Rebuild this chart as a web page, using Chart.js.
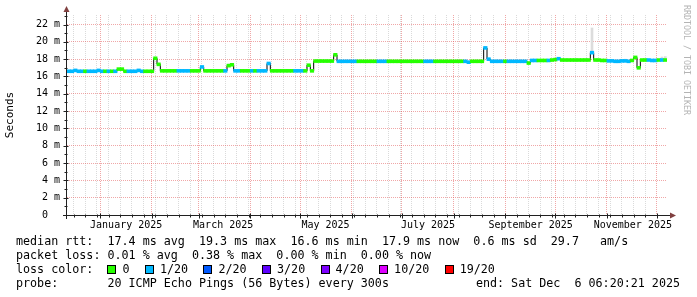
<!DOCTYPE html>
<html>
<head>
<meta charset="utf-8">
<script src="https://cdn.jsdelivr.net/npm/chart.js@4/dist/chart.umd.min.js"></script>
<style>
  body { margin: 0; background: #fff; }
  #wrap { position: relative; width: 697px; height: 297px; background: #fff; font-family: "DejaVu Sans Mono", monospace; color: #000; }
  canvas { position: absolute; left: 0; top: 0; }
  #legend { position: absolute; left: 16px; top: 234px; font-size: 11.7px; line-height: 14px; white-space: pre; }
  .sq { display: inline-block; width: 7px; height: 7px; border: 1px solid #000; margin-right: 6px; vertical-align: -1px; }
  .it { margin-right: 15.4px; }
  #end { position: absolute; right: 17px; top: 276px; font-size: 11.7px; line-height: 14px; white-space: pre; }
  #wm { position: absolute; left: 682px; top: 5px; writing-mode: vertical-rl; font-size: 8.3px; color: #b4b4b4; white-space: pre; }
</style>
</head>
<body>
<div id="wrap">
  <canvas id="c" width="697" height="297"></canvas>
  <div id="legend"></div>
  <div id="end">end: Sat Dec  6 06:20:21 2025</div>
  <div id="wm">RRDTOOL / TOBI OETIKER</div>
</div>
<script>
// x is days from 1 Jan 2025, one sample every 2 days
const startDay = -19.9;
const endDay = 340.1;
const binDays = 2;

// median rtt (ms) per 2-day bin
const median = [
  16.6, 16.6, 16.7, 16.6, 16.6, 16.6, 16.6, 16.6, 16.6, 16.7,
  16.6, 16.6, 16.6, 16.6, 16.6, 16.85, 16.85, 16.6, 16.6, 16.6,
  16.6, 16.7, 16.6, 16.6, 16.6, 16.6, 18.1, 17.4, 16.65, 16.65,
  16.65, 16.65, 16.65, 16.65, 16.65, 16.65, 16.65, 16.65, 16.65, 16.65,
  17.1, 16.65, 16.65, 16.65, 16.65, 16.65, 16.65, 16.65, 17.25, 17.35,
  16.65, 16.65, 16.65, 16.65, 16.65, 16.65, 16.65, 16.65, 16.65, 16.65,
  17.5, 16.65, 16.65, 16.65, 16.65, 16.65, 16.65, 16.65, 16.65, 16.65,
  16.65, 16.65, 17.3, 16.65, 17.78, 17.78, 17.78, 17.78, 17.78, 17.78,
  18.5, 17.75, 17.75, 17.75, 17.75, 17.75, 17.75, 17.75, 17.75, 17.75,
  17.75, 17.75, 17.75, 17.75, 17.75, 17.75, 17.75, 17.75, 17.75, 17.75,
  17.75, 17.75, 17.75, 17.75, 17.75, 17.75, 17.75, 17.75, 17.75, 17.75,
  17.75, 17.75, 17.75, 17.75, 17.75, 17.75, 17.75, 17.75, 17.75, 17.75,
  17.65, 17.75, 17.75, 17.75, 17.75, 19.3, 18.0, 17.75, 17.75, 17.75,
  17.75, 17.75, 17.75, 17.75, 17.75, 17.75, 17.75, 17.75, 17.55, 17.85,
  17.85, 17.85, 17.85, 17.85, 17.85, 17.9, 17.95, 18.05, 17.9, 17.9,
  17.9, 17.9, 17.9, 17.9, 17.9, 17.9, 17.9, 18.75, 17.9, 17.9,
  17.85, 17.85, 17.8, 17.8, 17.75, 17.75, 17.8, 17.8, 17.75, 17.85,
  18.2, 17.0, 17.9, 17.9, 17.9, 17.85, 17.85, 17.9, 17.9, 17.9
];

// packet loss per bin, index into lossColors (0 = 0/20, 1 = 1/20)
const loss = [
  1, 1, 1, 1, 1, 0, 1, 1, 1, 1,
  1, 0, 1, 0, 1, 0, 0, 0, 1, 1,
  1, 1, 1, 0, 0, 0, 0, 0, 0, 0,
  0, 0, 0, 1, 1, 1, 1, 0, 0, 0,
  1, 0, 0, 0, 0, 0, 0, 1, 0, 0,
  1, 1, 0, 0, 0, 1, 0, 1, 1, 1,
  1, 0, 0, 0, 0, 0, 0, 0, 1, 1,
  1, 0, 0, 0, 0, 0, 0, 0, 0, 0,
  0, 1, 1, 1, 1, 1, 1, 0, 0, 0,
  0, 0, 0, 1, 1, 1, 0, 0, 0, 0,
  0, 0, 0, 0, 0, 0, 0, 1, 1, 1,
  0, 0, 0, 0, 0, 0, 0, 0, 0, 1,
  1, 0, 0, 0, 0, 1, 1, 1, 1, 1,
  1, 0, 1, 1, 1, 1, 1, 1, 0, 1,
  1, 0, 0, 0, 1, 0, 0, 1, 0, 0,
  0, 0, 0, 0, 0, 0, 0, 1, 0, 0,
  0, 0, 1, 1, 1, 1, 1, 1, 1, 0,
  0, 0, 0, 0, 1, 1, 1, 0, 1, 0
];

// smoke (spread of the pings) where it shows above the median
const smokeBins = [48, 49, 126, 127, 128, 146, 147, 148, 149, 155, 157, 167, 173, 176, 178, 179];
const smokeTop = [17.45, 17.5, 18.1, 17.95, 17.95, 18.1, 18.15, 18.05, 18.0, 18.05, 21.6, 18.0, 18.05, 18.0, 18.25, 18.3];

const lossLabels = ['0', '1/20', '2/20', '3/20', '4/20', '10/20', '19/20'];
const lossColors = ['#26ff00', '#00b8ff', '#0059ff', '#5e00ff', '#7e00ff', '#dd00ff', '#ff0000'];

// month starts (major grid), first Monday (minor grid), month labels
const monthStarts = [0, 31, 59, 90, 120, 151, 181, 212, 243, 273, 304, 334];
const firstMonday = -16;
const labelDays = [15.6, 73.8, 135.2, 196.7, 258.3, 319.6];
const monthLabels = ['January 2025', 'March 2025', 'May 2025', 'July 2025', 'September 2025', 'November 2025'];

const yMax = 23.1;
const yTicks = [0, 1, 2, 3, 4, 5, 6, 7, 8, 9, 10, 11, 12, 13, 14, 15, 16, 17, 18, 19, 20, 21, 22, 23];

const statLines = [
  'median rtt:  17.4 ms avg  19.3 ms max  16.6 ms min  17.9 ms now  0.6 ms sd  29.7   am/s',
  'packet loss: 0.01 % avg  0.38 % max  0.00 % min  0.00 % now'
];
const probeLine = 'probe:       20 ICMP Echo Pings (56 Bytes) every 300s';

/* ---------- legend text ---------- */
let html = statLines.join('\n') + '\nloss color:  ';
lossLabels.forEach((l, i) => {
  html += '<span class="sq" style="background:' + lossColors[i] + '"></span><span class="it">' + l + '</span>';
});
html += '\n' + probeLine;
document.getElementById('legend').innerHTML = html;

/* ---------- chart ---------- */
Chart.defaults.font.family = '"DejaVu Sans Mono", monospace';

const GRID = 'rgba(143,143,143,0.33)';
const MGRID = 'rgba(225,80,80,0.5)';
const BAR_W = 3.5; // px, one 2-day bin is ~3.33 px wide

const xs = median.map((_, i) => startDay + binDays * i + binDays / 2);

const xTicks = [];
monthStarts.forEach(d => xTicks.push({ value: d, kind: 'major' }));
for (let d = firstMonday; d < endDay; d += 7) {
  if (monthStarts.indexOf(d) < 0) xTicks.push({ value: d, kind: 'minor' });
}
labelDays.forEach((d, i) => xTicks.push({ value: d, kind: 'label', name: monthLabels[i] }));
xTicks.sort((a, b) => a.value - b.value);

const axesPlugin = {
  id: 'rrdAxes',
  afterDatasetsDraw(chart) {
    const { ctx, chartArea: a, scales } = chart;
    const yb = a.bottom + 0.5, xl = a.left - 0.5;
    ctx.save();
    ctx.strokeStyle = '#202020';
    ctx.lineWidth = 1;
    ctx.beginPath();
    xTicks.forEach(t => {
      if (t.kind === 'label') return;
      const px = Math.round(scales.x.getPixelForValue(t.value)) + 0.5;
      ctx.moveTo(px, yb - (t.kind === 'major' ? 2 : 1));
      ctx.lineTo(px, yb + (t.kind === 'major' ? 3 : 2));
    });
    yTicks.forEach(v => {
      const py = Math.round(scales.y.getPixelForValue(v)) + 0.5;
      ctx.moveTo(xl - (v % 2 === 0 ? 3 : 2), py);
      ctx.lineTo(xl + (v % 2 === 0 ? 2 : 1), py);
    });
    ctx.moveTo(a.left - 4, yb);
    ctx.lineTo(a.right + 4, yb);
    ctx.moveTo(xl, a.bottom + 4);
    ctx.lineTo(xl, a.top - 4);
    ctx.stroke();
    ctx.fillStyle = '#804040';
    ctx.beginPath();
    ctx.moveTo(a.right + 3, yb - 3);
    ctx.lineTo(a.right + 9, yb);
    ctx.lineTo(a.right + 3, yb + 3);
    ctx.closePath();
    ctx.fill();
    ctx.beginPath();
    ctx.moveTo(xl - 3, a.top - 3);
    ctx.lineTo(xl, a.top - 9);
    ctx.lineTo(xl + 3, a.top - 3);
    ctx.closePath();
    ctx.fill();
    ctx.restore();
  }
};

new Chart(document.getElementById('c'), {
  type: 'bar',
  data: {
    datasets: [
      {
        type: 'bar',
        label: 'smoke',
        data: smokeBins.map((b, k) => ({ x: xs[b], y: [median[b], smokeTop[k]] })),
        backgroundColor: '#dcdcdc',
        grouped: false,
        barThickness: 2,
        order: 3
      },
      {
        type: 'line',
        label: 'median',
        data: xs.map((x, i) => ({ x: x, y: median[i] })),
        borderColor: '#000',
        borderWidth: 1,
        stepped: 'middle',
        pointRadius: 0,
        order: 2
      },
      {
        type: 'bar',
        label: 'loss',
        data: xs.map((x, i) => ({ x: x, y: [median[i] - 0.17, median[i] + 0.17] })),
        backgroundColor: loss.map(l => lossColors[l]),
        grouped: false,
        barThickness: BAR_W,
        order: 1
      }
    ]
  },
  options: {
    responsive: false,
    animation: false,
    events: [],
    layout: { padding: { top: 15, right: 30, left: 0, bottom: 0 } },
    plugins: { legend: { display: false }, tooltip: { enabled: false } },
    scales: {
      x: {
        type: 'linear',
        min: startDay,
        max: endDay,
        offset: false,
        grid: {
          offset: false,
          drawTicks: false,
          color: c => (c.tick && c.tick.kind === 'major') ? MGRID : GRID,
          lineWidth: c => (c.tick && c.tick.kind === 'label') ? 0 : 1
        },
        border: { display: false, dash: [1, 1] },
        ticks: {
          autoSkip: false,
          maxRotation: 0,
          minRotation: 0,
          padding: 4,
          color: '#000',
          font: { size: 10 },
          callback: (v, i, t) => t[i].name || ''
        },
        afterBuildTicks: s => { s.ticks = xTicks; },
        afterFit: s => { s.height = 82; }
      },
      y: {
        min: 0,
        max: yMax,
        grid: {
          drawTicks: false,
          color: c => (c.tick && c.tick.value % 2 === 0) ? MGRID : GRID,
          lineWidth: c => (c.tick && c.tick.value === 0) ? 0 : 1
        },
        border: { display: false, dash: [1, 1] },
        ticks: {
          padding: 7,
          color: '#000',
          font: { size: 10 },
          callback: v => v === 0 ? '0  ' : (v % 2 === 0 ? v + ' m' : '')
        },
        afterBuildTicks: s => { s.ticks = yTicks.map(v => ({ value: v })); },
        afterFit: s => { s.width = 67; },
        title: { display: true, text: 'Seconds', color: '#000', font: { size: 11 }, padding: { top: 4, bottom: 0 } }
      }
    }
  },
  plugins: [axesPlugin]
});
</script>
</body>
</html>
